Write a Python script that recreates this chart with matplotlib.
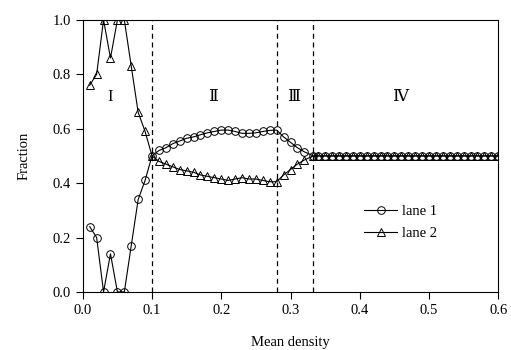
import numpy as np
import matplotlib.pyplot as plt

plt.rcParams['font.family'] = ['Liberation Serif', 'DejaVu Serif']

# data
density = [0.01, 0.02, 0.03, 0.04, 0.05, 0.06, 0.07, 0.08, 0.09, 0.10,
           0.11, 0.12, 0.13, 0.14, 0.15, 0.16, 0.17, 0.18, 0.19, 0.20,
           0.21, 0.22, 0.23, 0.24, 0.25, 0.26, 0.27, 0.28,
           0.29, 0.30, 0.31, 0.32, 0.333,
           0.34, 0.35, 0.36, 0.37, 0.38, 0.39, 0.40, 0.41, 0.42, 0.43,
           0.44, 0.45, 0.46, 0.47, 0.48, 0.49, 0.50, 0.51, 0.52, 0.53,
           0.54, 0.55, 0.56, 0.57, 0.58, 0.59, 0.60]
lane1 = [0.24, 0.20, 0.00, 0.14, 0.00, 0.00, 0.17, 0.34, 0.41, 0.50,
         0.52, 0.53, 0.545, 0.555, 0.565, 0.57, 0.578, 0.585, 0.59, 0.595,
         0.595, 0.59, 0.583, 0.583, 0.585, 0.59, 0.594, 0.595,
         0.57, 0.55, 0.53, 0.515, 0.50] + [0.50] * 27
lane2 = [0.76, 0.80, 1.00, 0.86, 1.00, 1.00, 0.83, 0.66, 0.59, 0.50,
         0.48, 0.47, 0.46, 0.45, 0.445, 0.44, 0.43, 0.425, 0.42, 0.415,
         0.41, 0.415, 0.42, 0.415, 0.415, 0.41, 0.405, 0.405,
         0.43, 0.45, 0.47, 0.485, 0.50] + [0.50] * 27
boundaries = [0.1, 0.28, 0.333]
regions = ['I', '\u2161', '\u2162', '\u2163']
region_x = [0.039, 0.188, 0.304, 0.458]
region_y = [0.715, 0.715, 0.715, 0.715]

fig = plt.figure(figsize=(5.11, 3.5), dpi=100)
ax = fig.add_axes([0.162, 0.166, 0.813, 0.777])

ax.plot(density, lane1, '-', color='black', lw=0.8, marker='o', ms=5.5,
        mfc='none', mec='black', mew=0.7, label='lane 1')
ax.plot(density, lane2, '-', color='black', lw=0.8, marker='^', ms=5.5,
        mfc='none', mec='black', mew=0.7, label='lane 2')

for b in boundaries:
    ax.axvline(b, color='black', ls=(0, (4, 3)), lw=0.9)

for txt, x, y in zip(regions, region_x, region_y):
    ax.text(x, y, txt, fontsize=12, ha='center', va='center')

ax.set_xlim(0, 0.6)
ax.set_ylim(0, 1.0)
ax.set_xticks(np.arange(0, 0.61, 0.1))
ax.set_yticks(np.arange(0, 1.01, 0.2))
ax.xaxis.set_major_formatter(plt.FormatStrFormatter('%.1f'))
ax.yaxis.set_major_formatter(plt.FormatStrFormatter('%.1f'))
ax.tick_params(direction='out', labelsize=10.5, length=5, width=0.8)
ax.set_xlabel('Mean density', fontsize=10.5, labelpad=14)
ax.set_ylabel('Fraction', fontsize=10.5, labelpad=16)
for s in ax.spines.values():
    s.set_linewidth(0.8)

ax.legend(loc='center left', bbox_to_anchor=(0.645, 0.255), frameon=False,
          fontsize=10.5, handlelength=2.3, handletextpad=0.3, labelspacing=0.6)

plt.savefig('out.png', dpi=100)
